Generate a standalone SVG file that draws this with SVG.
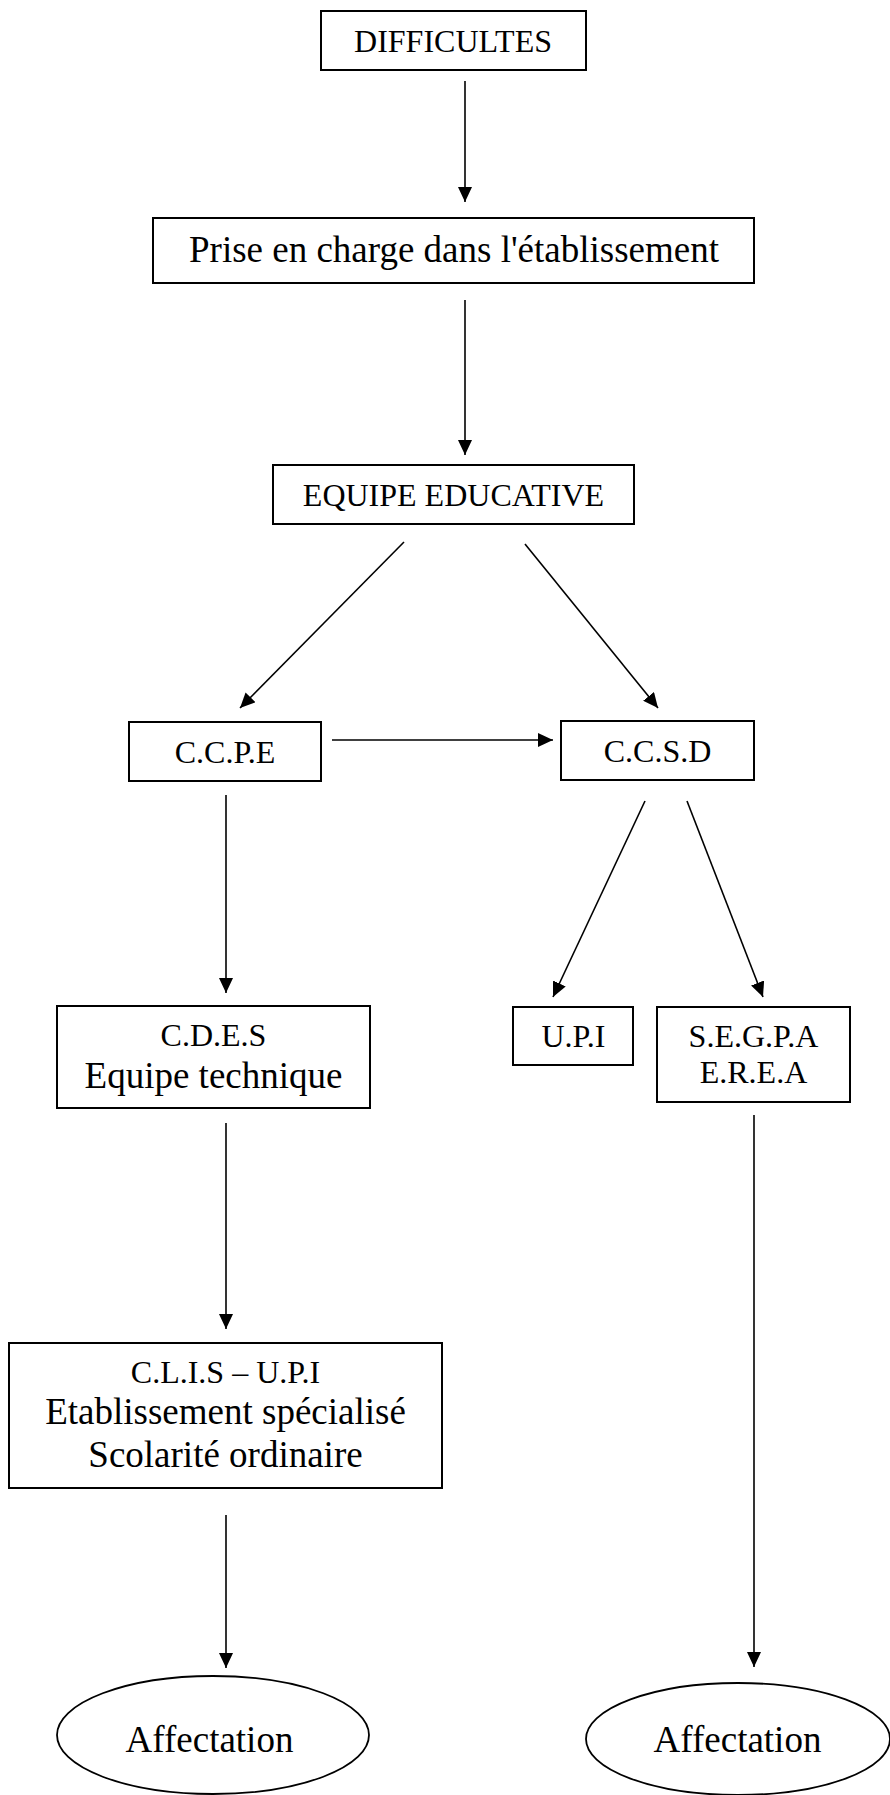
<svg xmlns="http://www.w3.org/2000/svg" width="890" height="1795" viewBox="0 0 890 1795">
  <style>
    .box { fill: #fff; stroke: #000; stroke-width: 2; }
    .oval { fill: #fff; stroke: #000; stroke-width: 1.8; }
    .lbl { font-family: "Liberation Serif", "Times New Roman", serif; fill: #000; text-anchor: middle; }
    .sm { font-size: 32px; }
    .lg { font-size: 37px; }
    .edge { stroke: #000; stroke-width: 1.6; fill: none; marker-end: url(#head); }
  </style>
  <defs>
    <marker id="head" markerUnits="userSpaceOnUse" markerWidth="16" markerHeight="14" refX="15" refY="7" orient="auto">
      <path d="M0,0 L15,7 L0,14 z" fill="#000"/>
    </marker>
  </defs>
  <rect width="890" height="1795" fill="#fff"/>

  <g id="connectors">
    <line class="edge" x1="465" y1="81" x2="465" y2="202"/>
    <line class="edge" x1="465" y1="300" x2="465" y2="455"/>
    <line class="edge" x1="404" y1="542" x2="240" y2="708"/>
    <line class="edge" x1="525" y1="544" x2="658" y2="708"/>
    <line class="edge" x1="332" y1="740" x2="553" y2="740"/>
    <line class="edge" x1="226" y1="795" x2="226" y2="993"/>
    <line class="edge" x1="645" y1="801" x2="553" y2="997"/>
    <line class="edge" x1="687" y1="801" x2="763" y2="997"/>
    <line class="edge" x1="226" y1="1123" x2="226" y2="1329"/>
    <line class="edge" x1="754" y1="1115" x2="754" y2="1667"/>
    <line class="edge" x1="226" y1="1515" x2="226" y2="1668"/>
  </g>

  <g id="difficultes">
    <rect class="box" x="321" y="11" width="265" height="59"/>
    <text class="lbl sm" x="453" y="52">DIFFICULTES</text>
  </g>

  <g id="prise-en-charge">
    <rect class="box" x="153" y="218" width="601" height="65"/>
    <text class="lbl lg" x="454" y="262">Prise en charge dans l'établissement</text>
  </g>

  <g id="equipe-educative">
    <rect class="box" x="273" y="465" width="361" height="59"/>
    <text class="lbl sm" x="453.5" y="506">EQUIPE EDUCATIVE</text>
  </g>

  <g id="ccpe">
    <rect class="box" x="129" y="722" width="192" height="59"/>
    <text class="lbl sm" x="225" y="763">C.C.P.E</text>
  </g>

  <g id="ccsd">
    <rect class="box" x="561" y="721" width="193" height="59"/>
    <text class="lbl sm" x="657.5" y="762">C.C.S.D</text>
  </g>

  <g id="cdes">
    <rect class="box" x="57" y="1006" width="313" height="102"/>
    <text class="lbl sm" x="213.5" y="1046">C.D.E.S</text>
    <text class="lbl lg" x="213.5" y="1088">Equipe technique</text>
  </g>

  <g id="upi">
    <rect class="box" x="513" y="1007" width="120" height="58"/>
    <text class="lbl sm" x="573.5" y="1047">U.P.I</text>
  </g>

  <g id="segpa">
    <rect class="box" x="657" y="1007" width="193" height="95"/>
    <text class="lbl sm" x="753.5" y="1047">S.E.G.P.A</text>
    <text class="lbl sm" x="753.5" y="1083">E.R.E.A</text>
  </g>

  <g id="clis">
    <rect class="box" x="9" y="1343" width="433" height="145"/>
    <text class="lbl sm" x="225.5" y="1383">C.L.I.S – U.P.I</text>
    <text class="lbl lg" x="225.5" y="1424">Etablissement spécialisé</text>
    <text class="lbl lg" x="225.5" y="1467">Scolarité ordinaire</text>
  </g>

  <g id="affectation-left">
    <ellipse class="oval" cx="213" cy="1735" rx="156" ry="59"/>
    <text class="lbl lg" x="209.5" y="1752">Affectation</text>
  </g>

  <g id="affectation-right">
    <ellipse class="oval" cx="738" cy="1739" rx="152" ry="56"/>
    <text class="lbl lg" x="737.5" y="1752">Affectation</text>
  </g>
</svg>
